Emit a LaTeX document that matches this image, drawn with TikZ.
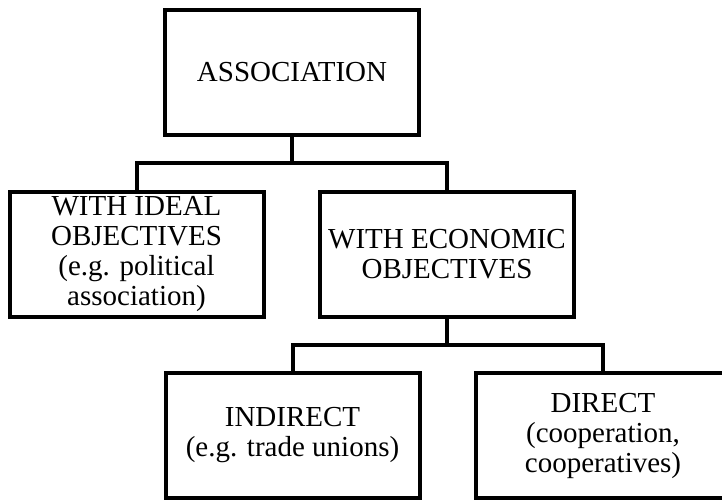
\documentclass[tikz,border=0pt]{standalone}
\usepackage{fontspec}
\setmainfont{Liberation Serif}
\usetikzlibrary{positioning}

\begin{document}
\begin{tikzpicture}[x=1pt,y=-1pt,
	box/.style={draw,line width=4pt,rectangle,align=center,inner sep=0pt,
		minimum width=254pt,minimum height=125pt,
		font=\fontsize{29}{30}\selectfont},
	link/.style={line width=4pt,line join=miter}]
\clip (0,0) rectangle (722,501);
\fill[white] (0,0) rectangle (722,501);

\node[box] (assoc) at (292,72) {ASSOCIATION};
\node[box] (ideal) at (136.5,254) {WITH IDEAL\\OBJECTIVES\\(e.g. political\\association)};
\node[box] (econ) at (447,254) {WITH ECONOMIC\\OBJECTIVES};
\node[box] (indirect) at (292.5,435.5) {INDIRECT\\(e.g. trade unions)};
\node[box] (direct) at (603,435.5) {DIRECT\\(cooperation,\\cooperatives)};

% first level
\coordinate (top) at (292,163);
\draw[link] (assoc.south) -- (top);
\draw[link] (ideal.north) |- (top) -| (econ.north);

% second level
\coordinate (mid) at (447,345);
\draw[link] (econ.south) -- (mid);
\draw[link] (indirect.north) |- (mid) -| (direct.north);

\end{tikzpicture}
\end{document}
